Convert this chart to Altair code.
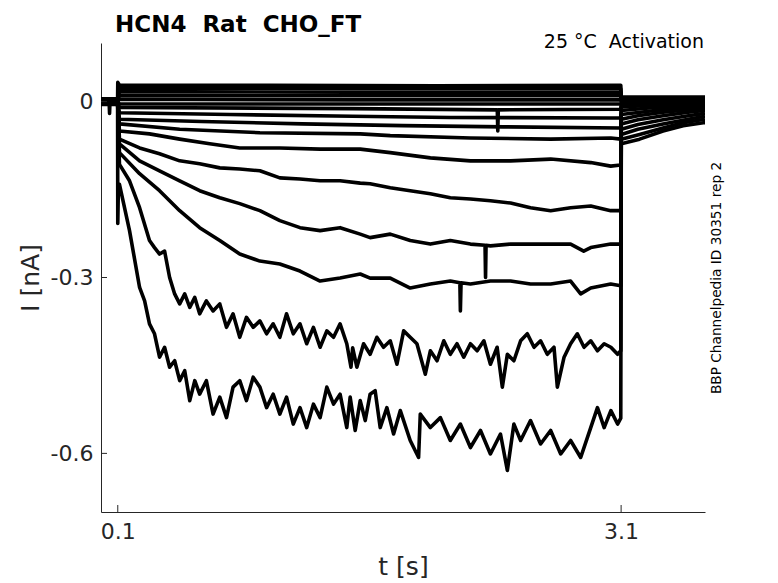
import altair as alt
import pandas as pd

# ---- data (t in s, I in nA) ----
tr01 = [[0.0, 0.005], [0.099, 0.005], [0.100, 0.033], [0.110, 0.028], [1.0, 0.028], [2.0, 0.027], [3.098, 0.028], [3.101, 0.008], [3.6, 0.008]]
tr02 = [[0.0, 0.004], [0.099, 0.004], [0.110, 0.023], [1.5, 0.022], [3.098, 0.022], [3.101, 0.006], [3.6, 0.006]]
tr03 = [[0.0, 0.003], [0.099, 0.003], [0.110, 0.017], [1.5, 0.016], [3.098, 0.016], [3.101, 0.004], [3.6, 0.004]]
tr04 = [[0.0, 0.002], [0.099, 0.002], [0.110, 0.010], [1.5, 0.010], [3.098, 0.010], [3.101, 0.002], [3.6, 0.002]]
tr05 = [[0.0, 0.001], [0.099, 0.001], [0.110, 0.004], [1.5, 0.003], [3.098, 0.003], [3.101, 0.000], [3.6, 0.001]]
tr06 = [[0.0, 0.000], [0.099, 0.000], [0.110, -0.004], [1.5, -0.004], [3.098, -0.004], [3.101, -0.002], [3.6, 0.000]]
tr07 = [[0.0, -0.001], [0.099, -0.001], [0.110, -0.010], [1.5, -0.012], [2.362, -0.014], [2.365, -0.050], [2.368, -0.014], [3.098, -0.013], [3.101, -0.004], [3.6, -0.001]]
tr08 = [[0.0, -0.002], [0.099, -0.002], [0.110, -0.019], [0.768, -0.022], [1.5, -0.025], [2.082, -0.027], [3.038, -0.028], [3.098, -0.028], [3.101, -0.009], [3.3, -0.006], [3.6, -0.003]]
tr09 = [[0.0, -0.003], [0.099, -0.003], [0.110, -0.030], [0.6, -0.034], [1.2, -0.038], [1.8, -0.041], [2.4, -0.043], [3.098, -0.045], [3.101, -0.015], [3.3, -0.010], [3.6, -0.005]]
tr10 = [[0.0, -0.004], [0.099, -0.004], [0.110, -0.038], [0.469, -0.047], [0.947, -0.053], [1.545, -0.055], [1.724, -0.058], [2.202, -0.062], [2.680, -0.064], [3.038, -0.062], [3.098, -0.064], [3.101, -0.022], [3.3, -0.015], [3.6, -0.008]]
tr11 = [[0.0, -0.005], [0.099, -0.005], [0.110, -0.050], [0.289, -0.055], [0.469, -0.064], [0.648, -0.072], [0.827, -0.079], [1.066, -0.079], [1.306, -0.081], [1.545, -0.081], [1.724, -0.087], [1.963, -0.096], [2.202, -0.101], [2.441, -0.101], [2.680, -0.098], [2.919, -0.104], [3.038, -0.110], [3.098, -0.108], [3.101, -0.030], [3.2, -0.024], [3.35, -0.018], [3.6, -0.011]]
tr12 = [[0.0, 0.002], [0.099, 0.002], [0.110, -0.064], [0.230, -0.079], [0.349, -0.089], [0.469, -0.101], [0.588, -0.106], [0.708, -0.113], [0.827, -0.115], [0.947, -0.118], [1.066, -0.130], [1.186, -0.132], [1.306, -0.135], [1.425, -0.135], [1.545, -0.139], [1.604, -0.140], [1.724, -0.147], [1.843, -0.152], [1.963, -0.157], [2.082, -0.164], [2.202, -0.166], [2.321, -0.169], [2.441, -0.173], [2.560, -0.181], [2.680, -0.186], [2.799, -0.181], [2.919, -0.178], [3.038, -0.186], [3.098, -0.186], [3.101, -0.038], [3.2, -0.031], [3.35, -0.024], [3.5, -0.018], [3.6, -0.015]]
tr13 = [[0.0, -0.002], [0.099, -0.002], [0.110, -0.072], [0.230, -0.101], [0.349, -0.118], [0.469, -0.135], [0.588, -0.152], [0.708, -0.164], [0.827, -0.174], [0.947, -0.186], [1.066, -0.203], [1.186, -0.215], [1.306, -0.220], [1.425, -0.215], [1.545, -0.226], [1.604, -0.232], [1.724, -0.226], [1.843, -0.237], [1.963, -0.243], [2.082, -0.237], [2.202, -0.243], [2.289, -0.245], [2.292, -0.300], [2.295, -0.245], [2.321, -0.246], [2.441, -0.243], [2.560, -0.243], [2.680, -0.243], [2.799, -0.243], [2.877, -0.255], [2.919, -0.249], [3.038, -0.243], [3.098, -0.243], [3.101, -0.047], [3.2, -0.039], [3.35, -0.031], [3.5, -0.024], [3.6, -0.020]]
tr14 = [[0.0, 0.003], [0.099, 0.003], [0.110, -0.087], [0.230, -0.123], [0.349, -0.152], [0.469, -0.186], [0.588, -0.215], [0.708, -0.237], [0.827, -0.260], [0.947, -0.272], [1.066, -0.277], [1.186, -0.289], [1.306, -0.306], [1.425, -0.301], [1.545, -0.294], [1.604, -0.301], [1.724, -0.301], [1.843, -0.318], [1.963, -0.311], [2.082, -0.306], [2.139, -0.309], [2.142, -0.357], [2.146, -0.309], [2.202, -0.311], [2.321, -0.306], [2.441, -0.306], [2.560, -0.311], [2.680, -0.311], [2.799, -0.306], [2.859, -0.328], [2.919, -0.318], [3.038, -0.311], [3.098, -0.314], [3.101, -0.056], [3.2, -0.047], [3.35, -0.038], [3.5, -0.030], [3.6, -0.025]]
tr15 = [[0.0, -0.003], [0.099, -0.003], [0.110, -0.107], [0.170, -0.135], [0.230, -0.181], [0.289, -0.237], [0.319, -0.249], [0.349, -0.260], [0.379, -0.255], [0.409, -0.300], [0.439, -0.328], [0.469, -0.345], [0.499, -0.328], [0.529, -0.351], [0.559, -0.334], [0.588, -0.362], [0.628, -0.340], [0.668, -0.357], [0.708, -0.345], [0.748, -0.385], [0.787, -0.362], [0.827, -0.402], [0.867, -0.368], [0.907, -0.385], [0.947, -0.374], [0.987, -0.396], [1.026, -0.379], [1.066, -0.402], [1.106, -0.362], [1.146, -0.396], [1.186, -0.379], [1.226, -0.413], [1.266, -0.385], [1.306, -0.419], [1.346, -0.391], [1.386, -0.402], [1.425, -0.379], [1.465, -0.413], [1.490, -0.453], [1.500, -0.420], [1.525, -0.453], [1.565, -0.413], [1.604, -0.431], [1.644, -0.402], [1.684, -0.419], [1.724, -0.408], [1.764, -0.448], [1.804, -0.391], [1.843, -0.402], [1.883, -0.413], [1.933, -0.465], [1.963, -0.425], [2.003, -0.442], [2.043, -0.408], [2.082, -0.431], [2.122, -0.413], [2.162, -0.436], [2.202, -0.413], [2.242, -0.425], [2.282, -0.408], [2.321, -0.448], [2.361, -0.419], [2.392, -0.487], [2.422, -0.431], [2.461, -0.442], [2.501, -0.408], [2.541, -0.396], [2.581, -0.419], [2.620, -0.408], [2.660, -0.431], [2.700, -0.419], [2.720, -0.487], [2.760, -0.436], [2.799, -0.413], [2.839, -0.396], [2.879, -0.419], [2.919, -0.408], [2.959, -0.425], [2.999, -0.413], [3.039, -0.419], [3.079, -0.431], [3.098, -0.425], [3.101, -0.064], [3.21, -0.056], [3.35, -0.045], [3.47, -0.036], [3.6, -0.030]]
tr16 = [[0.0, -0.004], [0.049, -0.004], [0.051, -0.020], [0.053, -0.004], [0.099, -0.004], [0.100, -0.208], [0.104, -0.140], [0.110, -0.141], [0.170, -0.220], [0.230, -0.317], [0.260, -0.340], [0.289, -0.379], [0.319, -0.396], [0.349, -0.436], [0.379, -0.419], [0.409, -0.453], [0.439, -0.442], [0.469, -0.476], [0.499, -0.459], [0.529, -0.510], [0.559, -0.476], [0.588, -0.499], [0.628, -0.476], [0.668, -0.533], [0.708, -0.504], [0.748, -0.539], [0.787, -0.487], [0.827, -0.476], [0.867, -0.510], [0.907, -0.470], [0.947, -0.487], [0.987, -0.522], [1.026, -0.499], [1.066, -0.533], [1.106, -0.504], [1.146, -0.550], [1.186, -0.522], [1.226, -0.556], [1.266, -0.516], [1.306, -0.539], [1.346, -0.487], [1.386, -0.516], [1.425, -0.499], [1.465, -0.556], [1.485, -0.504], [1.515, -0.561], [1.545, -0.510], [1.575, -0.544], [1.604, -0.499], [1.634, -0.493], [1.664, -0.556], [1.704, -0.522], [1.744, -0.567], [1.784, -0.527], [1.843, -0.578], [1.893, -0.607], [1.903, -0.533], [1.963, -0.556], [2.023, -0.539], [2.082, -0.578], [2.142, -0.550], [2.202, -0.590], [2.262, -0.561], [2.321, -0.601], [2.381, -0.567], [2.422, -0.629], [2.461, -0.550], [2.501, -0.578], [2.560, -0.544], [2.620, -0.584], [2.680, -0.561], [2.740, -0.601], [2.799, -0.578], [2.859, -0.607], [2.919, -0.556], [2.959, -0.522], [2.999, -0.556], [3.039, -0.527], [3.079, -0.550], [3.098, -0.540], [3.101, -0.072], [3.21, -0.064], [3.35, -0.050], [3.47, -0.041], [3.59, -0.036], [3.6, -0.036]]

traces = {"tr01": tr01, "tr02": tr02, "tr03": tr03, "tr04": tr04, "tr05": tr05, "tr06": tr06,
          "tr07": tr07, "tr08": tr08, "tr09": tr09, "tr10": tr10, "tr11": tr11, "tr12": tr12,
          "tr13": tr13, "tr14": tr14, "tr15": tr15, "tr16": tr16}

x_ticks = [0.1, 3.1]
y_ticks = [0, -0.3, -0.6]

title_text = "HCN4\u00a0 Rat\u00a0 CHO_FT"
note_text = "25 °C\u00a0 Activation"
side_text = "BBP Channelpedia ID 30351 rep 2"

# ---- tables ----
rows = []
for name, pts in traces.items():
    for t, i in pts:
        rows.append({"trace": name, "t": t, "I": i})
df = pd.DataFrame(rows)
names = list(traces.keys())
widths = [3.6] * 7 + [3.8, 4.0, 4.4, 5.0, 5.5, 6.0, 6.5, 3.4, 3.4]

W, H = 604, 469
FONT = "DejaVu Sans"
AX = "#262626"

xs = alt.Scale(domain=[0, 3.6], nice=False, zero=False)
ys = alt.Scale(domain=[-0.7, 0.1], nice=False, zero=False)

lines = alt.Chart(df).mark_line(color="black", clip=True, strokeJoin="round").encode(
    x=alt.X("t:Q", scale=xs, axis=alt.Axis(
        values=x_ticks, format=".1f", title="t [s]", tickSize=0, grid=False,
        labelFontSize=22, labelPadding=9, labelColor=AX, labelFont=FONT,
        titleFontSize=25, titleFont=FONT, titleColor=AX, titleFontWeight="normal",
        titleX=W / 2, titleY=54, titleBaseline="middle",
        domainColor=AX, domainWidth=1)),
    y=alt.Y("I:Q", scale=ys, axis=alt.Axis(
        values=y_ticks, title="I [nA]", tickSize=0, grid=False,
        labelExpr="datum.value == 0 ? '0' : '-' + format(-datum.value, '.1f')",
        labelFontSize=22, labelPadding=8, labelColor=AX, labelFont=FONT,
        titleFontSize=25, titleFont=FONT, titleColor=AX, titleFontWeight="normal",
        titleX=-71, titleY=H / 2, titleAngle=270, titleBaseline="middle", titleAlign="center",
        domainColor=AX, domainWidth=1)),
    detail="trace:N",
    order="t:Q",
    strokeWidth=alt.StrokeWidth("trace:N", scale=alt.Scale(domain=names, range=widths), legend=None),
)

ytick_df = pd.DataFrame({"I": y_ticks})
xtick_df = pd.DataFrame({"t": x_ticks})
yticks = alt.Chart(ytick_df).mark_rule(color=AX, strokeWidth=1).encode(
    y=alt.Y("I:Q", scale=ys), x=alt.value(0), x2=alt.value(6))
xticks = alt.Chart(xtick_df).mark_rule(color=AX, strokeWidth=1).encode(
    x=alt.X("t:Q", scale=xs), y=alt.value(H), y2=alt.value(H - 7))

title = alt.Chart(pd.DataFrame({"txt": [title_text]})).mark_text(
    align="left", baseline="alphabetic", fontSize=23, fontWeight="bold", font=FONT, color="black").encode(
    text="txt:N", x=alt.value(14), y=alt.value(-11))
note = alt.Chart(pd.DataFrame({"txt": [note_text]})).mark_text(
    align="right", baseline="alphabetic", fontSize=19, font=FONT, color="black").encode(
    text="txt:N", x=alt.value(W - 1), y=alt.value(5))
side = alt.Chart(pd.DataFrame({"txt": [side_text]})).mark_text(
    align="center", baseline="middle", angle=270, fontSize=13.7, font=FONT, color="black").encode(
    text="txt:N", x=alt.value(616), y=alt.value(235))

chart = alt.layer(lines, yticks, xticks, title, note, side).properties(
    width=W, height=H,
    padding={"left": 93, "top": 35, "right": 65, "bottom": 68},
    autosize=alt.AutoSizeParams(type="none"),
).configure_view(stroke=None).configure_axis(ticks=False)

chart.save("out.html", embed_options={"renderer": "svg", "actions": False})
